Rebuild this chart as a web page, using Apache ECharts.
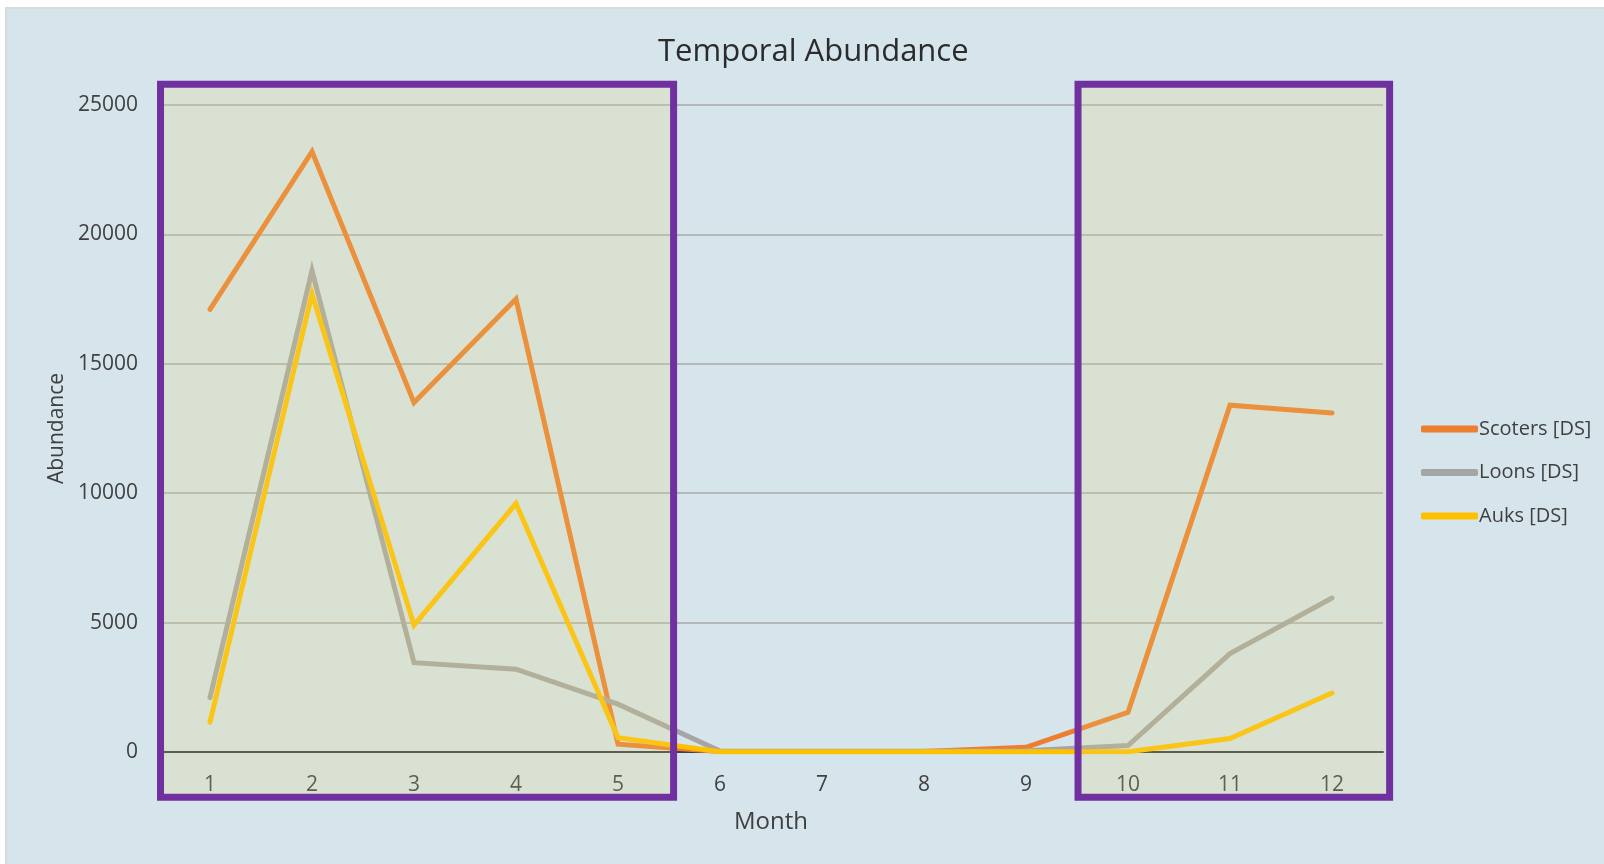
<!DOCTYPE html>
<html>
<head>
<meta charset="utf-8">
<script src="https://cdn.jsdelivr.net/npm/echarts@6/dist/echarts.min.js"></script>
<style>
  html, body { margin: 0; padding: 0; background: #ffffff; width: 1604px; height: 864px; overflow: hidden; }
  #wrap { position: absolute; left: 5px; top: 7px; right: 0; bottom: 0; border-left: 2px solid #dadada; border-top: 2px solid #dadada; }
  #chart { width: 100%; height: 100%; }
</style>
</head>
<body>
<div id="wrap"><div id="chart"></div></div>
<script>
// ---- data ----
const months = ['1', '2', '3', '4', '5', '6', '7', '8', '9', '10', '11', '12'];
const scoters = [17100, 23200, 13500, 17500, 300, 20, 20, 20, 180, 1530, 13400, 13100];
const loons = [2100, 18600, 3450, 3200, 1850, 40, 30, 30, 50, 250, 3800, 5950];
const auks = [1150, 17700, 4900, 9600, 550, 10, 10, 10, 10, 10, 520, 2280];
const seriesNames = ['Scoters [DS]', 'Loons [DS]', 'Auks [DS]'];
const yTicks = [0, 5000, 10000, 15000, 20000, 25000];
// highlighted month ranges, in month units (edges between months), and their vertical extent in data units
const boxStart = [0.515, 9.51];
const boxEnd = [5.545, 12.565];
const boxTop = 25800;
const boxBottom = -1750;

const colors = ['#ed7d31', '#a5a5a5', '#ffc000'];
const FONT = 'Open Sans';

const boxData = boxStart.map((s, i) => [s, boxEnd[i], boxTop, boxBottom]);

const chart = echarts.init(document.getElementById('chart'));
chart.setOption({
  backgroundColor: '#d6e4eb',
  animation: false,
  title: {
    text: 'Temporal Abundance',
    left: 646,
    top: 23,
    textStyle: { fontFamily: FONT, fontSize: 31, fontWeight: 'normal', color: '#2b2b2b' }
  },
  legend: {
    orient: 'vertical',
    left: 1409,
    top: 405,
    itemWidth: 57,
    itemHeight: 7,
    itemGap: 23.5,
    icon: 'roundRect',
    data: seriesNames,
    textStyle: { fontFamily: FONT, fontSize: 20, color: '#404040', padding: [0, 0, 0, -4] }
  },
  grid: { left: 152, right: 221, top: 96, bottom: 112, containLabel: false },
  xAxis: {
    type: 'category',
    data: months,
    boundaryGap: true,
    name: 'Month',
    nameLocation: 'middle',
    nameGap: 58,
    nameTextStyle: { fontFamily: FONT, fontSize: 24, color: '#404040' },
    axisLine: { show: true, lineStyle: { color: '#3f3f3f', width: 2 } },
    axisTick: { show: false },
    axisLabel: { fontFamily: FONT, fontSize: 21, color: '#404040', margin: 23 },
    splitLine: { show: false }
  },
  yAxis: {
    type: 'value',
    min: yTicks[0],
    max: yTicks[yTicks.length - 1],
    interval: yTicks[1] - yTicks[0],
    name: 'Abundance',
    nameLocation: 'middle',
    nameGap: 83,
    nameTextStyle: { fontFamily: FONT, fontSize: 21, color: '#404040' },
    axisLine: { show: false },
    axisTick: { show: false },
    axisLabel: { fontFamily: FONT, fontSize: 21, color: '#404040', margin: 21, formatter: v => String(v) },
    splitLine: { show: true, lineStyle: { color: '#b4b8ba', width: 2 } }
  },
  series: [
    ...[scoters, loons, auks].map((d, i) => ({
      name: seriesNames[i],
      type: 'line',
      data: d,
      symbol: 'none',
      showSymbol: false,
      z: 2,
      itemStyle: { color: colors[i] },
      lineStyle: { color: colors[i], width: 5, cap: 'round', join: 'miter' }
    })),
    {
      name: 'boxes',
      type: 'custom',
      clip: false,
      silent: true,
      z: 5,
      data: boxData,
      encode: { x: 0 },
      renderItem: function (params, api) {
        const band = api.size([1, 0])[0];
        const c0 = api.coord([0, 0])[0]; // centre of month 1
        const x0 = c0 + (api.value(0) - 1) * band;
        const x1 = c0 + (api.value(1) - 1) * band;
        const y0 = api.coord([0, api.value(2)])[1];
        const y1 = api.coord([0, api.value(3)])[1];
        return {
          type: 'rect',
          shape: { x: x0, y: y0, width: x1 - x0, height: y1 - y0 },
          style: { fill: 'rgba(232,220,110,0.2)', stroke: '#7030a0', lineWidth: 7 }
        };
      }
    }
  ]
});
</script>
</body>
</html>
